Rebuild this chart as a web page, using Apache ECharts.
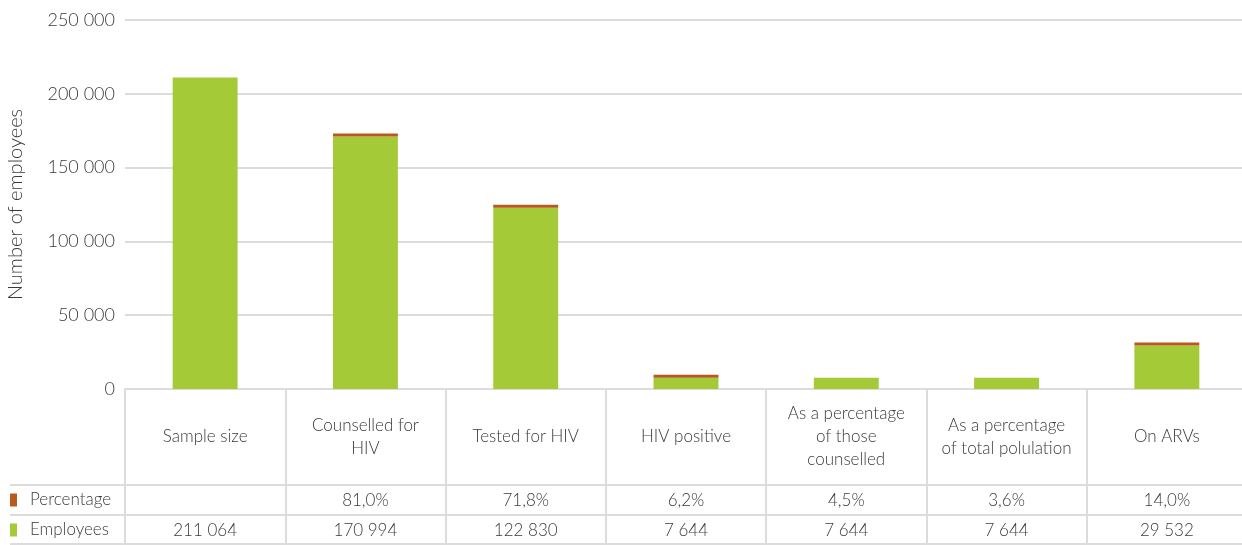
<!DOCTYPE html>
<html>
<head>
<meta charset="utf-8">
<script src="https://cdn.jsdelivr.net/npm/echarts@6/dist/echarts.min.js"></script>
<style>
html,body{margin:0;padding:0;background:#fff;}
#chart{width:1242px;height:545px;}
</style>
</head>
<body>
<div id="chart"></div>
<script>
const categories = [
  "Sample size",
  "Counselled for\nHIV",
  "Tested for HIV",
  "HIV positive",
  "As a percentage\nof those\ncounselled",
  "As a percentage\nof total polulation",
  "On ARVs"
];
const employees = [211064, 170994, 122830, 7644, 7644, 7644, 29532];
const percentage = [null, 81.0, 71.8, 6.2, 4.5, 3.6, 14.0];
const yTicks = [0, 50000, 100000, 150000, 200000, 250000];
const seriesNames = { pct: "Percentage", emp: "Employees" };
const yAxisTitle = "Number of employees";

const FONT = "Lato, 'Open Sans', sans-serif";
const FW = 300;
const TXT = "#3a3a3a";
const LINE = "#dcdcdc";
const GREEN = "#a5ca38";
const BROWN = "#b85a1e";

function fmtThousands(v) {
  return String(v).replace(/\B(?=(\d{3})+(?!\d))/g, " ");
}
function fmtPct(v) {
  return v == null ? "" : v.toFixed(1).replace(".", ",") + "%";
}
const hiddenPctBars = new Set([4, 5]);

const chart = echarts.init(document.getElementById("chart"), null, { renderer: "canvas" });

const txt = (size, extra) => Object.assign({ fontFamily: FONT, fontWeight: FW, fontSize: size, color: TXT }, extra || {});

const option = {
  backgroundColor: "#fff",
  animation: false,
  textStyle: { fontFamily: FONT },
  grid: { left: 125, right: -5, top: 20, bottom: 156, containLabel: false, outerBoundsMode: "none" },
  legend: {
    orient: "vertical",
    left: 10,
    top: 490,
    padding: 0,
    itemWidth: 7,
    itemHeight: 13,
    itemGap: 10,
    icon: "rect",
    data: [seriesNames.pct, seriesNames.emp],
    textStyle: txt(17, { lineHeight: 20, padding: [0, 0, 0, 8] }),
    selectedMode: false
  },
  xAxis: [
    {
      type: "category",
      data: categories,
      position: "bottom",
      axisLine: { show: true, lineStyle: { color: LINE, width: 2 } },
      axisTick: { show: true, interval: 0, length: 156, lineStyle: { color: LINE, width: 2 } },
      axisLabel: txt(17, { interval: 0, margin: 48, verticalAlign: "middle", lineHeight: 23 })
    },
    {
      type: "category",
      data: categories,
      position: "bottom",
      axisLine: { show: false }, axisTick: { show: false },
      axisLabel: txt(17, {
        interval: 0, margin: 112, verticalAlign: "middle",
        formatter: (v, i) => fmtPct(percentage[i])
      })
    },
    {
      type: "category",
      data: categories,
      position: "bottom",
      axisLine: { show: false }, axisTick: { show: false },
      axisLabel: txt(17, {
        interval: 0, margin: 142, verticalAlign: "middle",
        formatter: (v, i) => fmtThousands(employees[i])
      })
    }
  ],
  yAxis: {
    type: "value",
    min: yTicks[0],
    max: yTicks[yTicks.length - 1],
    interval: yTicks[1] - yTicks[0],
    name: yAxisTitle,
    nameLocation: "middle",
    nameGap: 99,
    nameRotate: 90,
    nameTextStyle: txt(20),
    axisLine: { show: false },
    axisTick: { show: false },
    axisLabel: txt(18, { margin: 10, formatter: v => fmtThousands(v) }),
    splitLine: { show: true, lineStyle: { color: LINE, width: 2 } }
  },
  series: [
    {
      name: seriesNames.emp,
      type: "bar",
      stack: "total",
      barWidth: "40.5%",
      data: employees,
      itemStyle: { color: GREEN }
    },
    {
      name: seriesNames.pct,
      type: "bar",
      stack: "total",
      barWidth: "40.5%",
      barMinHeight: 3,
      data: percentage.map((v, i) => hiddenPctBars.has(i)
        ? { value: v, itemStyle: { opacity: 0 } }
        : v),
      itemStyle: { color: BROWN }
    }
  ],
  graphic: [
    { type: "line", shape: { x1: 10, y1: 485, x2: 1242, y2: 485 }, style: { stroke: LINE, lineWidth: 2 } },
    { type: "line", shape: { x1: 10, y1: 515, x2: 1242, y2: 515 }, style: { stroke: LINE, lineWidth: 2 } },
    { type: "line", shape: { x1: 10, y1: 544, x2: 1242, y2: 544 }, style: { stroke: LINE, lineWidth: 2 } }
  ]
};
chart.setOption(option);
</script>
</body>
</html>
